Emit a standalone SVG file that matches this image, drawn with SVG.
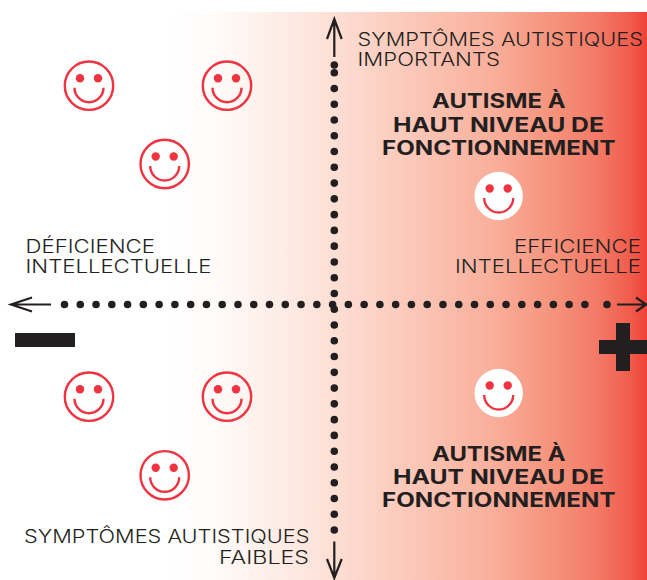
<svg xmlns="http://www.w3.org/2000/svg" width="647" height="580" viewBox="0 0 647 580">
<style>
text{font-family:"Inter","Liberation Sans",sans-serif;fill:#231f20}
.l{font-size:18px;font-weight:300}
.b{font-size:19.5px;font-weight:700}
.dots{fill:none;stroke:#231f20;stroke-width:7.6;stroke-linecap:round;stroke-dasharray:0 15.77}
.arr{fill:none;stroke:#231f20;stroke-width:2.2}
.blk{fill:#231f20}
.fc{fill:none;stroke:#ef3340;stroke-width:2.4}
.eye{fill:#ef3340}
</style>
<defs>
<linearGradient id="g" gradientUnits="userSpaceOnUse" x1="170" y1="0" x2="647" y2="0">
<stop offset="0" stop-color="#fff"/>
<stop offset="0.1" stop-color="#fffbf9"/>
<stop offset="0.335" stop-color="#fde0d6"/>
<stop offset="0.671" stop-color="#f9b09c"/>
<stop offset="0.818" stop-color="#f58f78"/>
<stop offset="0.9" stop-color="#f37865"/>
<stop offset="0.964" stop-color="#f15d4c"/>
<stop offset="1" stop-color="#ef4136"/>
</linearGradient>
<g id="face">
<circle cx="0" cy="0" r="24.2" class="fc"/>
<circle cx="-9" cy="-7.5" r="4.2" class="eye"/>
<circle cx="9" cy="-7.5" r="4.2" class="eye"/>
<path d="M-14.5 2A14.5 14.5 0 0 0 14.5 2" class="fc"/>
</g>
<g id="wface">
<circle cx="0" cy="0" r="24.2" fill="#fff"/>
<circle cx="-9" cy="-7.5" r="4.2" class="eye"/>
<circle cx="9" cy="-7.5" r="4.2" class="eye"/>
<path d="M-14.5 2A14.5 14.5 0 0 0 14.5 2" class="fc"/>
</g>
</defs>
<rect width="647" height="580" fill="#fff"/>
<rect id="background" x="170" y="12" width="477" height="568" fill="url(#g)"/>
<g id="connectors">
<path class="dots" d="M64.5 304.5H585"/>
<path class="dots" d="M607 304.5h.01"/>
<path class="dots" d="M334.3 72.7V531"/>
<path class="dots" d="M334.3 65h.01"/>
<path class="arr" d="M334.3 57V19M327 39L334.3 19L341.7 39"/>
<path class="arr" d="M334.3 541.5V578M327 559L334.3 578L341.7 559"/>
<path class="arr" d="M51 304.5H11M32 297.5L11 304.5L32 311.5"/>
<path class="arr" d="M617 304.5H645M636 297.5L646 304.5L636 311.5"/>
</g>
<g id="minus"><rect class="blk" x="15" y="333" width="60" height="14"/></g>
<g id="plus"><path class="blk" d="M616 323H630V340H647V354H630V371H616V354H599V340H616Z"/></g>
<g id="face-tl1"><use href="#face" x="89" y="85.7"/></g>
<g id="face-tl2"><use href="#face" x="227" y="85.7"/></g>
<g id="face-tl3"><use href="#face" x="164.7" y="164"/></g>
<g id="face-bl1"><use href="#face" x="89" y="396.7"/></g>
<g id="face-bl2"><use href="#face" x="227" y="396.7"/></g>
<g id="face-bl3"><use href="#face" x="164.7" y="475.3"/></g>
<g id="face-tr"><use href="#wface" x="498.7" y="196"/></g>
<g id="face-br"><use href="#wface" x="498.7" y="393"/></g>
<g id="label-top">
<text class="l" x="357.5" y="45.5" textLength="285.5" lengthAdjust="spacingAndGlyphs">SYMPTÔMES AUTISTIQUES</text>
<text class="l" x="357.5" y="65.5" textLength="142.5" lengthAdjust="spacingAndGlyphs">IMPORTANTS</text>
</g>
<g id="label-left">
<text class="l" x="25.5" y="253" textLength="129.5" lengthAdjust="spacingAndGlyphs">DÉFICIENCE</text>
<text class="l" x="25.5" y="273" textLength="186" lengthAdjust="spacingAndGlyphs">INTELLECTUELLE</text>
</g>
<g id="label-right">
<text class="l" x="514" y="253" textLength="127" lengthAdjust="spacingAndGlyphs">EFFICIENCE</text>
<text class="l" x="455" y="273" textLength="186" lengthAdjust="spacingAndGlyphs">INTELLECTUELLE</text>
</g>
<g id="label-bottom">
<text class="l" x="24" y="543" textLength="285.5" lengthAdjust="spacingAndGlyphs">SYMPTÔMES AUTISTIQUES</text>
<text class="l" x="219" y="564" textLength="90" lengthAdjust="spacingAndGlyphs">FAIBLES</text>
</g>
<g id="title-top">
<text class="b" x="432" y="107.5" textLength="133.5" lengthAdjust="spacingAndGlyphs">AUTISME À</text>
<text class="b" x="393" y="131.5" textLength="211" lengthAdjust="spacingAndGlyphs">HAUT NIVEAU DE</text>
<text class="b" x="382" y="154.7" textLength="233.5" lengthAdjust="spacingAndGlyphs">FONCTIONNEMENT</text>
</g>
<g id="title-bottom">
<text class="b" x="432" y="461" textLength="133.5" lengthAdjust="spacingAndGlyphs">AUTISME À</text>
<text class="b" x="393" y="484" textLength="211" lengthAdjust="spacingAndGlyphs">HAUT NIVEAU DE</text>
<text class="b" x="382" y="507" textLength="233.5" lengthAdjust="spacingAndGlyphs">FONCTIONNEMENT</text>
</g>
</svg>
